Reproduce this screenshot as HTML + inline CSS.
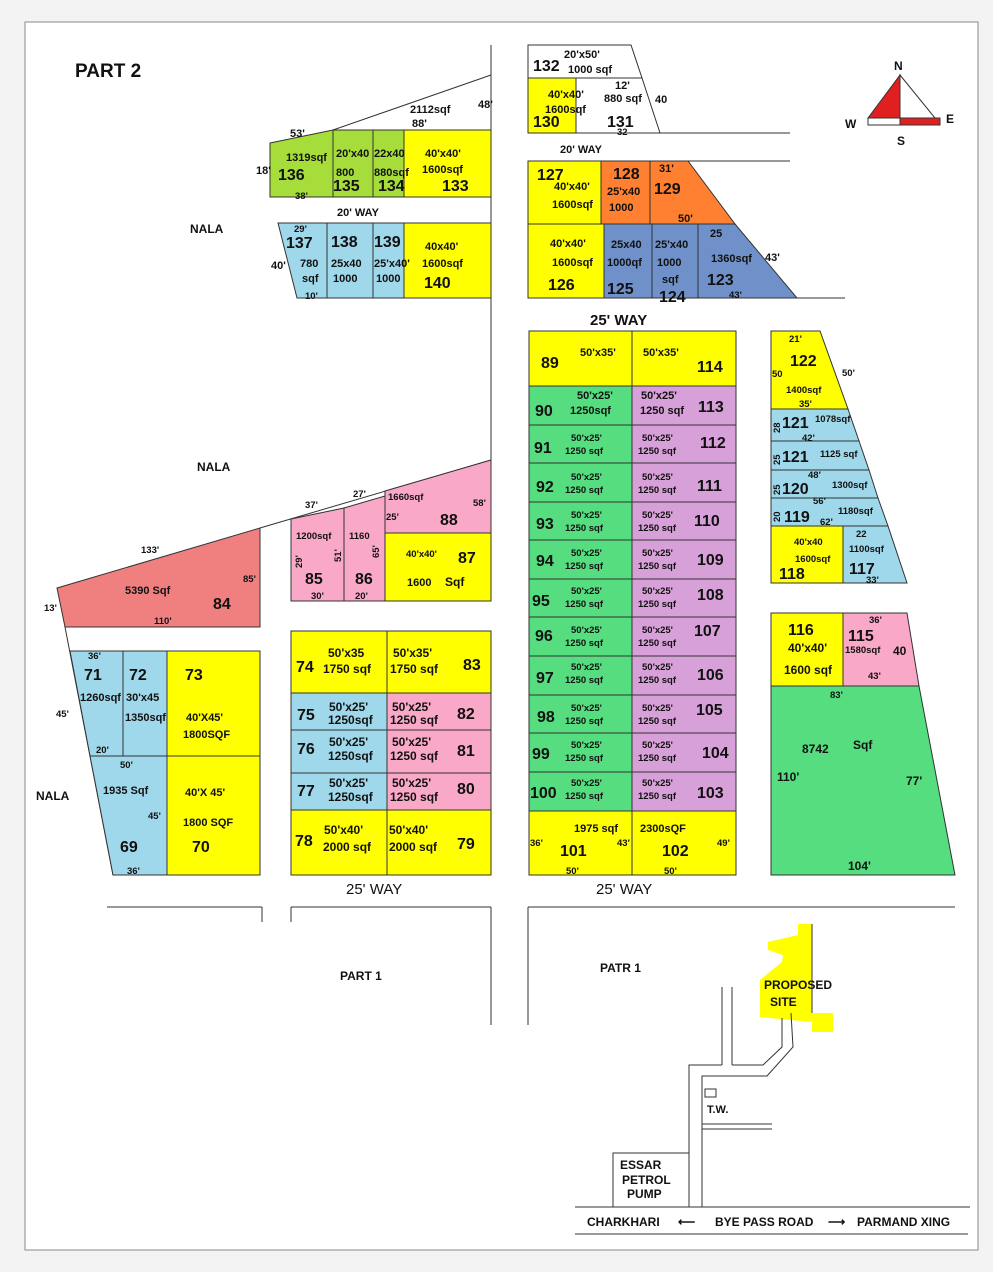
<!DOCTYPE html>
<html><head><meta charset="utf-8"><style>
html,body{margin:0;padding:0;background:#f3f3f3}
svg{display:block}
text{font-family:"Liberation Sans",Arial,sans-serif;font-weight:bold;fill:#111}
.s{font-size:11px}.m{font-size:12px}.b{font-size:16px}.t{font-size:9.5px}
</style></head><body>
<svg width="993" height="1272" viewBox="0 0 993 1272" xmlns="http://www.w3.org/2000/svg">
<rect x="0" y="0" width="993" height="1272" fill="#f3f3f3"/>
<rect x="25" y="22" width="953" height="1228" fill="#ffffff" stroke="#888" stroke-width="1"/>
<g stroke="#333" stroke-width="1">
<line x1="491" y1="45" x2="491" y2="460"/>
<line x1="333" y1="130" x2="491" y2="75"/>
<polygon points="270,143 333,130 333,197 270,197" fill="#a6dd3a"/>
<rect x="333" y="130" width="40" height="67" fill="#a6dd3a"/>
<rect x="373" y="130" width="31" height="67" fill="#a6dd3a"/>
<rect x="404" y="130" width="87" height="67" fill="#ffff00"/>
<polygon points="278,223 327,223 327,298 297,298" fill="#9fd8ea"/>
<rect x="327" y="223" width="46" height="75" fill="#9fd8ea"/>
<rect x="373" y="223" width="31" height="75" fill="#9fd8ea"/>
<rect x="404" y="223" width="87" height="75" fill="#ffff00"/>
<polygon points="528,45 631,45 642,78 528,78" fill="#fff"/>
<rect x="528" y="78" width="48" height="55" fill="#ffff00"/>
<polygon points="576,78 642,78 660,133 576,133" fill="#fff"/>
<line x1="528" y1="133" x2="790" y2="133"/>
<line x1="528" y1="161" x2="790" y2="161"/>
<rect x="528" y="161" width="73" height="63" fill="#ffff00"/>
<rect x="601" y="161" width="49" height="63" fill="#ff8030"/>
<polygon points="650,161 688,161 735,224 650,224" fill="#ff8030"/>
<rect x="528" y="224" width="76" height="74" fill="#ffff00"/>
<rect x="604" y="224" width="48" height="74" fill="#6f90c8"/>
<rect x="652" y="224" width="46" height="74" fill="#6f90c8"/>
<polygon points="698,224 735,224 797,298 698,298" fill="#6f90c8"/>
<line x1="797" y1="298" x2="845" y2="298"/>
<rect x="529" y="331" width="103" height="55" fill="#ffff00"/>
<rect x="632" y="331" width="104" height="55" fill="#ffff00"/>
<g fill="#55dd80">
<rect x="529" y="386" width="103" height="39"/><rect x="529" y="425" width="103" height="38"/><rect x="529" y="463" width="103" height="39"/><rect x="529" y="502" width="103" height="38"/><rect x="529" y="540" width="103" height="39"/><rect x="529" y="579" width="103" height="38"/><rect x="529" y="617" width="103" height="39"/><rect x="529" y="656" width="103" height="39"/><rect x="529" y="695" width="103" height="38"/><rect x="529" y="733" width="103" height="39"/><rect x="529" y="772" width="103" height="39"/>
</g>
<g fill="#d8a0d8">
<rect x="632" y="386" width="104" height="39"/><rect x="632" y="425" width="104" height="38"/><rect x="632" y="463" width="104" height="39"/><rect x="632" y="502" width="104" height="38"/><rect x="632" y="540" width="104" height="39"/><rect x="632" y="579" width="104" height="38"/><rect x="632" y="617" width="104" height="39"/><rect x="632" y="656" width="104" height="39"/><rect x="632" y="695" width="104" height="38"/><rect x="632" y="733" width="104" height="39"/><rect x="632" y="772" width="104" height="39"/>
</g>
<rect x="529" y="811" width="103" height="64" fill="#ffff00"/>
<rect x="632" y="811" width="104" height="64" fill="#ffff00"/>
<polygon points="771,331 820,331 848,409 771,409" fill="#ffff00"/>
<polygon points="771,409 848,409 859,441 771,441" fill="#9fd8ea"/>
<polygon points="771,441 859,441 869,470 771,470" fill="#9fd8ea"/>
<polygon points="771,470 869,470 878,498 771,498" fill="#9fd8ea"/>
<polygon points="771,498 878,498 888,526 771,526" fill="#9fd8ea"/>
<rect x="771" y="526" width="72" height="57" fill="#ffff00"/>
<polygon points="843,526 888,526 907,583 843,583" fill="#9fd8ea"/>
<rect x="771" y="613" width="72" height="73" fill="#ffff00"/>
<polygon points="843,613 907,613 919,686 843,686" fill="#f9a8c8"/>
<polygon points="771,686 919,686 955,875 771,875" fill="#55dd80"/>
<line x1="260" y1="528" x2="491" y2="460"/>
<polygon points="57,588 260,528 260,627 65,627" fill="#f08080"/>
<line x1="65" y1="627" x2="113" y2="875"/>
<polygon points="291,519 344,508 344,601 291,601" fill="#f9a8c8"/>
<polygon points="344,508 385,496 385,601 344,601" fill="#f9a8c8"/>
<polygon points="385,491 491,460 491,533 385,533" fill="#f9a8c8"/>
<rect x="385" y="533" width="106" height="68" fill="#ffff00"/>
<polygon points="70,651 123,651 123,756 90,756" fill="#9fd8ea"/>
<rect x="123" y="651" width="44" height="105" fill="#9fd8ea"/>
<rect x="167" y="651" width="93" height="105" fill="#ffff00"/>
<polygon points="90,756 167,756 167,875 113,875" fill="#9fd8ea"/>
<rect x="167" y="756" width="93" height="119" fill="#ffff00"/>
<rect x="291" y="631" width="96" height="62" fill="#ffff00"/>
<rect x="387" y="631" width="104" height="62" fill="#ffff00"/>
<rect x="291" y="693" width="96" height="37" fill="#9fd8ea"/>
<rect x="387" y="693" width="104" height="37" fill="#f9a8c8"/>
<rect x="291" y="730" width="96" height="43" fill="#9fd8ea"/>
<rect x="387" y="730" width="104" height="43" fill="#f9a8c8"/>
<rect x="291" y="773" width="96" height="37" fill="#9fd8ea"/>
<rect x="387" y="773" width="104" height="37" fill="#f9a8c8"/>
<rect x="291" y="810" width="96" height="65" fill="#ffff00"/>
<rect x="387" y="810" width="104" height="65" fill="#ffff00"/>
<line x1="107" y1="907" x2="262" y2="907"/>
<line x1="291" y1="907" x2="491" y2="907"/>
<line x1="528" y1="907" x2="955" y2="907"/>
<line x1="262" y1="907" x2="262" y2="922"/>
<line x1="291" y1="907" x2="291" y2="922"/>
<line x1="491" y1="907" x2="491" y2="1025"/>
<line x1="528" y1="907" x2="528" y2="1025"/>
<polygon points="798,924 812,924 812,1013 833,1013 833,1032 812,1032 812,1022 760,1017 760,980 782,962 783,955 768,950 768,942 798,935" fill="#ffff00" stroke="none"/>
<line x1="812" y1="924" x2="812" y2="1013"/>
<line x1="722" y1="987" x2="722" y2="1065"/>
<line x1="732" y1="987" x2="732" y2="1065"/>
<polyline points="732,1065 763,1065 782,1047 782,1018" fill="none"/>
<polyline points="702,1207 702,1076 767,1076 793,1047 791,1013" fill="none"/>
<polyline points="689,1207 689,1065 722,1065" fill="none"/>
<line x1="702" y1="1124" x2="772" y2="1124"/>
<line x1="702" y1="1129" x2="772" y2="1129"/>
<rect x="705" y="1089" width="11" height="8" fill="#fff"/>
<polyline points="613,1207 613,1153 689,1153" fill="none"/>
<line x1="575" y1="1207" x2="970" y2="1207"/>
<line x1="575" y1="1234" x2="968" y2="1234"/>
<polygon points="868,118 900,75 900,118" fill="#e02020"/>
<polygon points="900,75 935,118 900,118" fill="#fff"/>
<rect x="868" y="118" width="32" height="7" fill="#fff"/>
<rect x="900" y="118" width="40" height="7" fill="#e02020"/>
</g>
<text x="75" y="77" style="font-size:19px">PART  2</text>
<text x="190" y="233" class="m">NALA</text>
<text x="197" y="471" class="m">NALA</text>
<text x="36" y="800" class="m">NALA</text>
<text x="340" y="980" class="m">PART 1</text>
<text x="600" y="972" class="m">PATR 1</text>
<text x="894" y="70" class="m">N</text><text x="845" y="128" class="m">W</text><text x="946" y="123" class="m">E</text><text x="897" y="145" class="m">S</text>
<text x="410" y="113" class="s">2112sqf</text><text x="478" y="108" class="s">48'</text><text x="412" y="127" class="s">88'</text>
<text x="290" y="137" class="s">53'</text><text x="286" y="161" class="s">1319sqf</text><text x="336" y="157" class="s">20'x40</text><text x="374" y="157" class="s">22x40</text><text x="425" y="157" class="s">40'x40'</text>
<text x="256" y="174" class="s">18'</text><text x="278" y="180" class="b">136</text><text x="336" y="176" class="s">800</text><text x="374" y="176" class="s">880sqf</text><text x="422" y="173" class="s">1600sqf</text>
<text x="333" y="191" class="b">135</text><text x="378" y="191" class="b">134</text><text x="442" y="191" class="b">133</text><text x="295" y="199" class="t">38'</text>
<text x="337" y="216" class="s">20'    WAY</text>
<text x="294" y="232" class="t">29'</text><text x="286" y="248" class="b">137</text><text x="331" y="247" class="b">138</text><text x="374" y="247" class="b">139</text><text x="425" y="250" class="s">40x40'</text>
<text x="271" y="269" class="s">40'</text><text x="300" y="267" class="s">780</text><text x="331" y="267" class="s">25x40</text><text x="374" y="267" class="s">25'x40'</text><text x="422" y="267" class="s">1600sqf</text>
<text x="302" y="282" class="s">sqf</text><text x="333" y="282" class="s">1000</text><text x="376" y="282" class="s">1000</text><text x="424" y="288" class="b">140</text><text x="305" y="299" class="t">10'</text>
<text x="533" y="71" class="b">132</text><text x="564" y="58" class="s">20'x50'</text><text x="568" y="73" class="s">1000 sqf</text>
<text x="548" y="98" class="s">40'x40'</text><text x="545" y="113" class="s">1600sqf</text><text x="533" y="127" class="b">130</text>
<text x="615" y="89" class="s">12'</text><text x="604" y="102" class="s">880 sqf</text><text x="655" y="103" class="s">40</text><text x="607" y="127" class="b">131</text><text x="617" y="135" class="t">32</text>
<text x="560" y="153" class="s">20'  WAY</text>
<text x="537" y="180" class="b">127</text><text x="554" y="190" class="s">40'x40'</text><text x="552" y="208" class="s">1600sqf</text>
<text x="613" y="179" class="b">128</text><text x="607" y="195" class="s">25'x40</text><text x="609" y="211" class="s">1000</text>
<text x="659" y="172" class="s">31'</text><text x="654" y="194" class="b">129</text><text x="678" y="222" class="s">50'</text>
<text x="550" y="247" class="s">40'x40'</text><text x="552" y="266" class="s">1600sqf</text><text x="548" y="290" class="b">126</text>
<text x="611" y="248" class="s">25x40</text><text x="607" y="266" class="s">1000qf</text><text x="607" y="294" class="b">125</text>
<text x="655" y="248" class="s">25'x40</text><text x="657" y="266" class="s">1000</text><text x="662" y="283" class="s">sqf</text><text x="659" y="302" class="b">124</text>
<text x="710" y="237" class="s">25</text><text x="711" y="262" class="s">1360sqf</text><text x="765" y="261" class="s">43'</text><text x="707" y="285" class="b">123</text><text x="729" y="298" class="t">43'</text>
<text x="590" y="325" style="font-size:15px">25'  WAY</text>
<text x="541" y="368" class="b">89</text><text x="580" y="356" class="s">50'x35'</text><text x="643" y="356" class="s">50'x35'</text><text x="697" y="372" class="b">114</text>
<text x="535" y="416" class="b">90</text><text x="577" y="399" class="s">50'x25'</text><text x="570" y="414" class="s">1250sqf</text><text x="641" y="399" class="s">50'x25'</text><text x="640" y="414" class="s">1250 sqf</text><text x="698" y="412" class="b">113</text>
<g>
<text x="534" y="453" class="b">91</text><text x="571" y="441" class="t">50'x25'</text><text x="565" y="454" class="t">1250 sqf</text><text x="642" y="441" class="t">50'x25'</text><text x="638" y="454" class="t">1250 sqf</text><text x="700" y="448" class="b">112</text>
<text x="536" y="492" class="b">92</text><text x="571" y="480" class="t">50'x25'</text><text x="565" y="493" class="t">1250 sqf</text><text x="642" y="480" class="t">50'x25'</text><text x="638" y="493" class="t">1250 sqf</text><text x="697" y="491" class="b">111</text>
<text x="536" y="529" class="b">93</text><text x="571" y="518" class="t">50'x25'</text><text x="565" y="531" class="t">1250 sqf</text><text x="642" y="518" class="t">50'x25'</text><text x="638" y="531" class="t">1250 sqf</text><text x="694" y="526" class="b">110</text>
<text x="536" y="566" class="b">94</text><text x="571" y="556" class="t">50'x25'</text><text x="565" y="569" class="t">1250 sqf</text><text x="642" y="556" class="t">50'x25'</text><text x="638" y="569" class="t">1250 sqf</text><text x="697" y="565" class="b">109</text>
<text x="532" y="606" class="b">95</text><text x="571" y="594" class="t">50'x25'</text><text x="565" y="607" class="t">1250 sqf</text><text x="642" y="594" class="t">50'x25'</text><text x="638" y="607" class="t">1250 sqf</text><text x="697" y="600" class="b">108</text>
<text x="535" y="641" class="b">96</text><text x="571" y="633" class="t">50'x25'</text><text x="565" y="646" class="t">1250 sqf</text><text x="642" y="633" class="t">50'x25'</text><text x="638" y="646" class="t">1250 sqf</text><text x="694" y="636" class="b">107</text>
<text x="536" y="683" class="b">97</text><text x="571" y="670" class="t">50'x25'</text><text x="565" y="683" class="t">1250 sqf</text><text x="642" y="670" class="t">50'x25'</text><text x="638" y="683" class="t">1250 sqf</text><text x="697" y="680" class="b">106</text>
<text x="537" y="722" class="b">98</text><text x="571" y="711" class="t">50'x25'</text><text x="565" y="724" class="t">1250 sqf</text><text x="642" y="711" class="t">50'x25'</text><text x="638" y="724" class="t">1250 sqf</text><text x="696" y="715" class="b">105</text>
<text x="532" y="759" class="b">99</text><text x="571" y="748" class="t">50'x25'</text><text x="565" y="761" class="t">1250 sqf</text><text x="642" y="748" class="t">50'x25'</text><text x="638" y="761" class="t">1250 sqf</text><text x="702" y="758" class="b">104</text>
<text x="530" y="798" class="b">100</text><text x="571" y="786" class="t">50'x25'</text><text x="565" y="799" class="t">1250 sqf</text><text x="642" y="786" class="t">50'x25'</text><text x="638" y="799" class="t">1250 sqf</text><text x="697" y="798" class="b">103</text>
</g>
<text x="574" y="832" class="s">1975 sqf</text><text x="640" y="832" class="s">2300sQF</text><text x="530" y="846" class="t">36'</text><text x="617" y="846" class="t">43'</text><text x="717" y="846" class="t">49'</text>
<text x="560" y="856" class="b">101</text><text x="662" y="856" class="b">102</text><text x="566" y="874" class="t">50'</text><text x="664" y="874" class="t">50'</text>
<text x="346" y="894" style="font-size:15px;font-weight:normal">25'  WAY</text>
<text x="596" y="894" style="font-size:15px;font-weight:normal">25'  WAY</text>
<text x="789" y="342" class="t">21'</text><text x="790" y="366" class="b">122</text><text x="772" y="377" class="t">50</text><text x="842" y="376" class="t">50'</text><text x="786" y="393" class="t">1400sqf</text><text x="799" y="407" class="t">35'</text>
<text x="782" y="428" class="b">121</text><text x="815" y="422" class="t">1078sqf</text><text x="802" y="441" class="t">42'</text>
<text x="782" y="462" class="b">121</text><text x="820" y="457" class="t">1125 sqf</text><text x="808" y="478" class="t">48'</text>
<text x="782" y="494" class="b">120</text><text x="832" y="488" class="t">1300sqf</text><text x="813" y="504" class="t">56'</text>
<text x="784" y="522" class="b">119</text><text x="820" y="525" class="t">62'</text><text x="838" y="514" class="t">1180sqf</text>
<text x="856" y="537" class="t">22</text><text x="794" y="545" class="t">40'x40</text><text x="795" y="562" class="t">1600sqf</text><text x="849" y="552" class="t">1100sqf</text>
<text x="779" y="579" class="b">118</text><text x="849" y="574" class="b">117</text><text x="866" y="583" class="t">33'</text>
<text transform="translate(780,433) rotate(-90)" class="t">28</text>
<text transform="translate(780,465) rotate(-90)" class="t">25</text>
<text transform="translate(780,495) rotate(-90)" class="t">25</text>
<text transform="translate(780,522) rotate(-90)" class="t">20</text>
<text x="788" y="635" class="b">116</text><text x="788" y="652" class="m">40'x40'</text><text x="784" y="674" class="m">1600 sqf</text>
<text x="869" y="623" class="t">36'</text><text x="848" y="641" class="b">115</text><text x="845" y="653" class="t">1580sqf</text><text x="893" y="655" class="m">40</text><text x="868" y="679" class="t">43'</text>
<text x="830" y="698" class="t">83'</text><text x="802" y="753" class="m">8742</text><text x="853" y="749" class="m">Sqf</text><text x="777" y="781" class="m">110'</text><text x="906" y="785" class="m">77'</text><text x="848" y="870" class="m">104'</text>
<text x="141" y="553" class="t">133'</text><text x="305" y="508" class="t">37'</text><text x="353" y="497" class="t">27'</text><text x="388" y="500" class="t">1660sqf</text><text x="473" y="506" class="t">58'</text><text x="386" y="520" class="t">25'</text><text x="440" y="525" class="b">88</text>
<text x="296" y="539" class="t">1200sqf</text><text x="349" y="539" class="t">1160</text><text x="406" y="557" class="t">40'x40'</text><text x="458" y="563" class="b">87</text>
<text transform="translate(302,568) rotate(-90)" class="t">29'</text>
<text transform="translate(341,562) rotate(-90)" class="t">51'</text>
<text transform="translate(379,558) rotate(-90)" class="t">65'</text>
<text x="305" y="584" class="b">85</text><text x="355" y="584" class="b">86</text><text x="407" y="586" class="s">1600</text><text x="445" y="586" class="m">Sqf</text><text x="311" y="599" class="t">30'</text><text x="355" y="599" class="t">20'</text>
<text x="243" y="582" class="t">85'</text><text x="125" y="594" class="s">5390 Sqf</text><text x="213" y="609" class="b">84</text><text x="44" y="611" class="t">13'</text><text x="154" y="624" class="t">110'</text>
<text x="88" y="659" class="t">36'</text><text x="84" y="680" class="b">71</text><text x="129" y="680" class="b">72</text><text x="185" y="680" class="b">73</text>
<text x="80" y="701" class="s">1260sqf</text><text x="126" y="701" class="s">30'x45</text><text x="56" y="717" class="t">45'</text><text x="125" y="721" class="s">1350sqf</text><text x="186" y="721" class="s">40'X45'</text><text x="183" y="738" class="s">1800SQF</text>
<text x="96" y="753" class="t">20'</text><text x="120" y="768" class="t">50'</text><text x="103" y="794" class="s">1935 Sqf</text><text x="185" y="796" class="s">40'X 45'</text>
<text x="148" y="819" class="t">45'</text><text x="183" y="826" class="s">1800 SQF</text><text x="120" y="852" class="b">69</text><text x="192" y="852" class="b">70</text><text x="127" y="874" class="t">36'</text>
<text x="296" y="672" class="b">74</text><text x="328" y="657" class="m">50'x35</text><text x="323" y="673" class="m">1750 sqf</text><text x="393" y="657" class="m">50'x35'</text><text x="390" y="673" class="m">1750 sqf</text><text x="463" y="670" class="b">83</text>
<text x="297" y="720" class="b">75</text><text x="329" y="711" class="m">50'x25'</text><text x="328" y="724" class="m">1250sqf</text><text x="392" y="711" class="m">50'x25'</text><text x="390" y="724" class="m">1250 sqf</text><text x="457" y="719" class="b">82</text>
<text x="297" y="754" class="b">76</text><text x="329" y="746" class="m">50'x25'</text><text x="328" y="760" class="m">1250sqf</text><text x="392" y="746" class="m">50'x25'</text><text x="390" y="760" class="m">1250 sqf</text><text x="457" y="756" class="b">81</text>
<text x="297" y="796" class="b">77</text><text x="329" y="787" class="m">50'x25'</text><text x="328" y="801" class="m">1250sqf</text><text x="392" y="787" class="m">50'x25'</text><text x="390" y="801" class="m">1250 sqf</text><text x="457" y="794" class="b">80</text>
<text x="295" y="846" class="b">78</text><text x="324" y="834" class="m">50'x40'</text><text x="323" y="851" class="m">2000 sqf</text><text x="389" y="834" class="m">50'x40'</text><text x="389" y="851" class="m">2000 sqf</text><text x="457" y="849" class="b">79</text>
<text x="764" y="989" class="m">PROPOSED</text><text x="770" y="1006" class="m">SITE</text>
<text x="707" y="1113" class="s">T.W.</text>
<text x="620" y="1169" class="m">ESSAR</text><text x="622" y="1184" class="m">PETROL</text><text x="627" y="1198" class="m">PUMP</text>
<text x="587" y="1226" class="m">CHARKHARI</text><text x="678" y="1226" class="m">⟵</text><text x="715" y="1226" class="m">BYE PASS ROAD</text><text x="828" y="1226" class="m">⟶</text><text x="857" y="1226" class="m">PARMAND XING</text>
</svg>
</body></html>
